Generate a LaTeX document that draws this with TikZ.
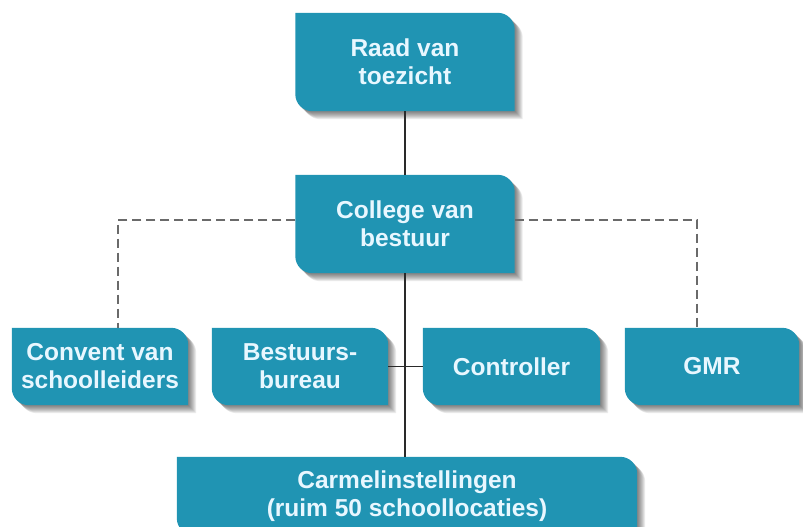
\documentclass[tikz,border=0pt]{standalone}
\usepackage{fontspec}
\setmainfont{Liberation Sans}
\usetikzlibrary{calc}
\definecolor{boxblue}{HTML}{2094B3}
\definecolor{boxtext}{HTML}{E8F7FF}
\definecolor{linedark}{HTML}{2A2A2A}
\definecolor{dashgray}{HTML}{6A6A6A}
\pgfdeclarelayer{bg}
\pgfsetlayers{bg,main}
\tikzset{
  box/.style={inner sep=0pt, align=center, text=boxtext,
    font=\fontsize{24.5}{28}\selectfont\bfseries},
  solidline/.style={draw=linedark, line width=1.8pt},
  dashline/.style={draw=dashgray, line width=1.8pt, dash pattern=on 9pt off 5pt},
}
\begin{document}
\begin{tikzpicture}[x=1pt,y=-1pt]
\useasboundingbox (0,0) rectangle (803,527);
\node[box, minimum width=219pt, minimum height=98pt] (raad) at (405,62) {Raad van\\toezicht};
\node[box, minimum width=219pt, minimum height=98pt] (college) at (405,224) {College van\\bestuur};
\node[box, minimum width=176pt, minimum height=77pt] (convent) at (100,366.5) {Convent van\\schoolleiders};
\node[box, minimum width=176pt, minimum height=77pt] (bestuurs) at (300,366.5) {Bestuurs-\\bureau};
\node[box, minimum width=177pt, minimum height=77pt] (controller) at (511.5,366.5) {Controller};
\node[box, minimum width=174pt, minimum height=77pt] (gmr) at (712,366.5) {GMR};
\node[box, minimum width=460pt, minimum height=78pt] (carmel) at (407,496) {Carmelinstellingen\\(ruim 50 schoollocaties)};
\coordinate (dl) at ([xshift=18pt]convent.north);
\coordinate (dr) at ([xshift=-15pt]gmr.north);
\begin{pgfonlayer}{bg}
\foreach \n in {raad,college,convent,bestuurs,controller,gmr,carmel}{
  \foreach \d in {1,2,3,4,5,6,7,8}{
    \fill[black,opacity=0.08]
      ($(\n.north west)+(\d,\d)$)
      -- ($(\n.north east)+(\d-17,\d)$)
      .. controls ($(\n.north east)+(\d-7.6,\d)$) and ($(\n.north east)+(\d,\d+7.6)$)
      .. ($(\n.north east)+(\d,\d+17)$)
      -- ($(\n.south east)+(\d,\d)$)
      -- ($(\n.south west)+(\d+17,\d)$)
      .. controls ($(\n.south west)+(\d+7.6,\d)$) and ($(\n.south west)+(\d,\d-7.6)$)
      .. ($(\n.south west)+(\d,\d-17)$)
      -- cycle;
  }
  \fill[boxblue] (\n.north west)
      -- ($(\n.north east)+(-17,0)$)
      .. controls ($(\n.north east)+(-7.6,0)$) and ($(\n.north east)+(0,7.6)$)
      .. ($(\n.north east)+(0,17)$)
      -- (\n.south east)
      -- ($(\n.south west)+(17,0)$)
      .. controls ($(\n.south west)+(7.6,0)$) and ($(\n.south west)+(0,-7.6)$)
      .. ($(\n.south west)+(0,-17)$)
      -- cycle;
}
\end{pgfonlayer}
\draw[solidline] (raad.south) -- (college.north);
\draw[solidline] (college.south) -- (college.south |- carmel.north);
\draw[solidline] (bestuurs.east) -- (controller.west);
\draw[dashline] ([yshift=4pt]college.west) -| (dl);
\draw[dashline] ([yshift=4pt]college.east) -| (dr);
\end{tikzpicture}
\end{document}
